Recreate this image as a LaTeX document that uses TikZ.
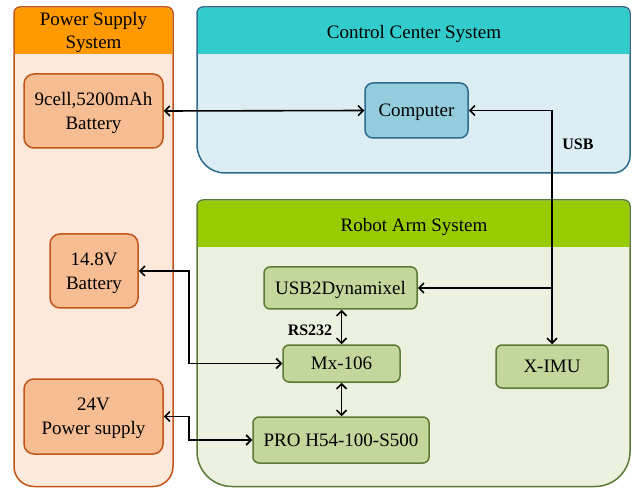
\documentclass[tikz,border=0pt]{standalone}
\usepackage{fontspec}
\setmainfont{Liberation Serif}
\usetikzlibrary{arrows.meta}
\definecolor{powerhead}{HTML}{FF9900}
\definecolor{powerfill}{HTML}{FCE9DC}
\definecolor{powerline}{HTML}{C0561A}
\definecolor{powerbox}{HTML}{F6BD92}
\definecolor{ctrlhead}{HTML}{33CCCC}
\definecolor{ctrlfill}{HTML}{DCEEF4}
\definecolor{ctrlline}{HTML}{2E6A8E}
\definecolor{ctrlbox}{HTML}{93CDDD}
\definecolor{armhead}{HTML}{99CC00}
\definecolor{armfill}{HTML}{EBF1DE}
\definecolor{armline}{HTML}{5A7A36}
\definecolor{armbox}{HTML}{C3D69B}
\begin{document}
\begin{tikzpicture}
[x=1pt,y=1pt,
  paneldecorate/.style={line width=1.5pt},%
  nodedecorate/.style={shape=rectangle,draw,line width=1.5pt,align=center,
    inner sep=0pt,text depth=0pt,font=\fontsize{19}{24}\selectfont},%
  powernode/.style={nodedecorate,draw=powerline,fill=powerbox,rounded corners=10pt},%
  ctrlnode/.style={nodedecorate,draw=ctrlline,fill=ctrlbox,rounded corners=8pt},%
  armnode/.style={nodedecorate,draw=armline,fill=armbox,rounded corners=6pt},%
  headtext/.style={align=center,font=\fontsize{19}{23}\selectfont},%
  labeldecorate/.style={font=\fontsize{16}{18}\selectfont\bfseries},%
  onewaydecorate/.style={line width=1.6pt,-{Straight Barb[length=5pt,width=10pt]}},%
  twowaydecorate/.style={line width=1.6pt,
    {Straight Barb[length=5pt,width=10pt]}-{Straight Barb[length=5pt,width=10pt]}}]
\useasboundingbox (0,0) rectangle (635,488);
%% panels
\draw[paneldecorate,draw=powerline,fill=powerfill] (14,475)
  arc[start angle=180,end angle=90,radius=6] -- (167,481)
  arc[start angle=90,end angle=0,radius=6] -- (173,21.5)
  arc[start angle=0,end angle=-90,radius=20] -- (34,1.5)
  arc[start angle=270,end angle=180,radius=20] -- cycle;
\fill[powerhead] (14.75,434) -- (14.75,475)
  arc[start angle=180,end angle=90,radius=5.25] -- (167,480.25)
  arc[start angle=90,end angle=0,radius=5.25] -- (172.25,434) -- cycle;
\draw[paneldecorate,draw=ctrlline,fill=ctrlfill] (197,475)
  arc[start angle=180,end angle=90,radius=6] -- (624,481)
  arc[start angle=90,end angle=0,radius=6] -- (630,332)
  arc[start angle=0,end angle=-90,radius=17] -- (225,315)
  arc[start angle=270,end angle=180,radius=28] -- cycle;
\fill[ctrlhead] (197.75,434) -- (197.75,475)
  arc[start angle=180,end angle=90,radius=5.25] -- (624,480.25)
  arc[start angle=90,end angle=0,radius=5.25] -- (629.25,434) -- cycle;
\draw[paneldecorate,draw=armline,fill=armfill] (197,282)
  arc[start angle=180,end angle=90,radius=6] -- (624,288)
  arc[start angle=90,end angle=0,radius=6] -- (630,36.5)
  arc[start angle=0,end angle=-90,radius=35] -- (232,1.5)
  arc[start angle=270,end angle=180,radius=35] -- cycle;
\fill[armhead] (197.75,241) -- (197.75,282)
  arc[start angle=180,end angle=90,radius=5.25] -- (624,287.25)
  arc[start angle=90,end angle=0,radius=5.25] -- (629.25,241) -- cycle;
%% panel titles
\node (powertitle) at (93.5,455.5) [headtext] {Power Supply\\System};
\node (ctrltitle) at (414,454.5) [headtext] {Control Center System};
\node (armtitle) at (414,261.5) [headtext] {Robot Arm System};
%% nodes
\foreach \nodename/\x/\y/\w/\h/\txt in {
  bat9/93.5/377/139/74/{9cell,5200mAh\\Battery},
  bat14/94/217/88/74/{14.8V\\Battery},
  ps24/93.5/71.5/139/75/{24V\\Power supply}}
{
  \node (\nodename) at (\x,\y) [powernode,minimum width=\w,minimum height=\h] {\txt};
}
\node (comp) at (416.5,377.5) [ctrlnode,minimum width=103,minimum height=55] {Computer};
\foreach \nodename/\x/\y/\w/\h/\txt in {
  usb2d/340.5/200/153/42/USB2Dynamixel,
  mx/341.5/124.5/117/37/Mx-106,
  pro/341/48/176/46/PRO H54-100-S500,
  ximu/552/121.5/112/43/X-IMU}
{
  \node (\nodename) at (\x,\y) [armnode,minimum width=\w,minimum height=\h] {\txt};
}
%% edges or lines
\coordinate (busleft) at (189,0);
\coordinate (usbsplit) at (ximu.north |- usb2d.east);
\draw[twowaydecorate] (bat9.east) -- (comp.east -| comp.west);
\draw[twowaydecorate] (comp.east) -| (ximu.north);
\draw[onewaydecorate] (usbsplit) -- (usb2d.east);
\draw[twowaydecorate] (usb2d.south -| mx.north) -- (mx.north);
\draw[twowaydecorate] (mx.south) -- (pro.north -| mx.south);
\draw[twowaydecorate] (bat14.east) -| (busleft |- mx.west) -- (mx.west);
\draw[twowaydecorate] (ps24.east) -| (busleft |- pro.west) -- (pro.west);
%% labels
\node (usblabel) at (578,343.5) [labeldecorate] {USB};
\node (rslabel) at (310,158) [labeldecorate] {RS232};
\end{tikzpicture}
\end{document}
